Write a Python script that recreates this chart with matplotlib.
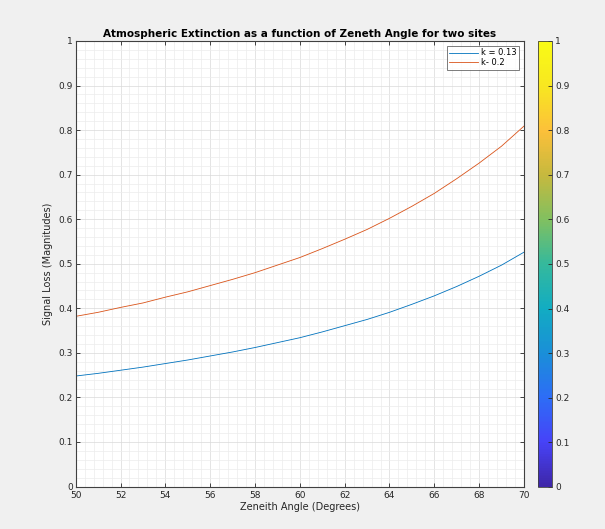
import numpy as np
import matplotlib
matplotlib.use("Agg")
import matplotlib.pyplot as plt
from matplotlib.colors import LinearSegmentedColormap
from matplotlib.ticker import MultipleLocator, AutoMinorLocator

# Zenith angle (degrees) and signal loss values
zenith = [50, 51, 52, 53, 54, 55, 56, 57, 58, 59, 60,
          61, 62, 63, 64, 65, 66, 67, 68, 69, 70]
loss_k013 = [0.248, 0.254, 0.261, 0.268, 0.276, 0.284, 0.293, 0.302, 0.312, 0.323, 0.334,
             0.347, 0.361, 0.375, 0.391, 0.409, 0.428, 0.449, 0.472, 0.497, 0.526]
loss_k020 = [0.382, 0.391, 0.402, 0.412, 0.425, 0.437, 0.451, 0.465, 0.480, 0.497, 0.514,
             0.534, 0.555, 0.577, 0.602, 0.629, 0.658, 0.691, 0.726, 0.764, 0.809]
labels = ["k = 0.13", "k- 0.2"]

# parula-like colormap (MATLAB default)
parula_pts = ["#3e26a8", "#4743f8", "#2d6df6", "#1a8fd8", "#12acc2",
              "#35b99c", "#81c060", "#c6b93e", "#fcc03a", "#f8e721", "#f9fb15"]
parula = LinearSegmentedColormap.from_list("parula", parula_pts)

txt = "#262626"
fig = plt.figure(figsize=(6.05, 5.29), dpi=100, facecolor="#f0f0f0")
ax = fig.add_axes([0.1251, 0.0803, 0.741, 0.8422])
ax.set_facecolor("white")

ax.plot(zenith, loss_k013, color="#0072BD", lw=0.6, label=labels[0])
ax.plot(zenith, loss_k020, color="#D95319", lw=0.6, label=labels[1])

ax.set_xlim(50, 70)
ax.set_ylim(0, 1)
ax.xaxis.set_major_locator(MultipleLocator(2))
ax.yaxis.set_major_locator(MultipleLocator(0.1))
ax.xaxis.set_minor_locator(AutoMinorLocator(5))
ax.yaxis.set_minor_locator(AutoMinorLocator(5))
ax.yaxis.set_major_formatter(plt.FuncFormatter(lambda v, p: f"{v:g}"))
ax.grid(which="major", color="#d9d9d9", lw=0.5)
ax.grid(which="minor", color="#ececec", lw=0.5)
ax.set_axisbelow(True)
ax.tick_params(which="major", direction="in", length=3, width=0.6,
               top=True, right=True, labelsize=6.5, colors=txt, pad=2)
ax.tick_params(axis="x", which="major", pad=3)
ax.tick_params(which="minor", length=0)
for s in ax.spines.values():
    s.set_color("#404040")
    s.set_linewidth(0.8)

ax.set_title("Atmospheric Extinction as a function of Zeneth Angle for two sites",
             fontsize=7.5, fontweight="bold", pad=3)
ax.set_xlabel("Zeneith Angle (Degrees)", fontsize=7, color=txt, labelpad=2)
ax.set_ylabel("Signal Loss (Magnitudes)", fontsize=7, color=txt, labelpad=4)

leg = ax.legend(loc="upper right", fontsize=6, frameon=True, fancybox=False,
                handlelength=3.5, borderpad=0.3, labelspacing=0.1,
                handletextpad=0.3, borderaxespad=0.6)
leg.get_frame().set_edgecolor("#404040")
leg.get_frame().set_linewidth(0.6)

cax = fig.add_axes([0.8888, 0.0795, 0.0241, 0.843])
sm = plt.cm.ScalarMappable(cmap=parula, norm=plt.Normalize(0, 1))
cb = fig.colorbar(sm, cax=cax, ticks=np.arange(0, 1.01, 0.1))
cb.ax.yaxis.set_major_formatter(plt.FuncFormatter(lambda v, p: f"{v:g}"))
cb.ax.tick_params(direction="in", length=3, width=0.6, labelsize=6.5, colors=txt, pad=2)
cb.outline.set_edgecolor("#404040")
cb.outline.set_linewidth(0.6)

fig.savefig("out.png", dpi=100, facecolor=fig.get_facecolor())
